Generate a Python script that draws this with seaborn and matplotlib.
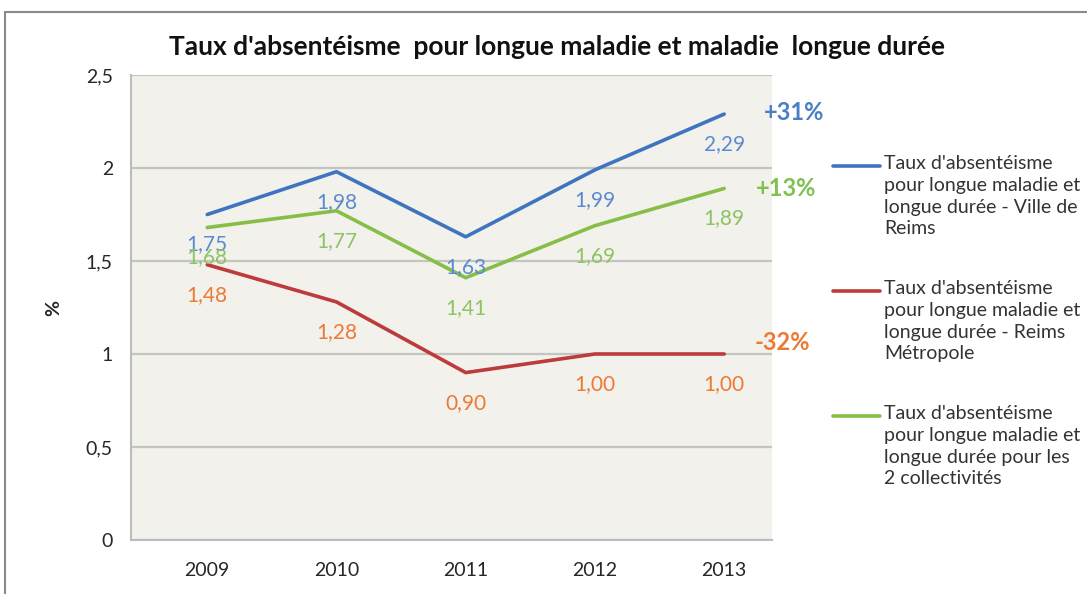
import pandas as pd
import matplotlib.pyplot as plt
import seaborn as sns
from matplotlib.lines import Line2D

years = ["2009", "2010", "2011", "2012", "2013"]
ville = [1.75, 1.98, 1.63, 1.99, 2.29]
metropole = [1.48, 1.28, 0.90, 1.00, 1.00]
deux = [1.68, 1.77, 1.41, 1.69, 1.89]
evolutions = ["+31%", "-32%", "+13%"]

series_names = [
    "Taux d'absentéisme\npour longue maladie et\nlongue durée - Ville de\nReims",
    "Taux d'absentéisme\npour longue maladie et\nlongue durée - Reims\nMétropole",
    "Taux d'absentéisme\npour longue maladie et\nlongue durée pour les\n2 collectivités",
]
yticks = [0, 0.5, 1, 1.5, 2, 2.5]

line_colors = ["#3F74C0", "#BD3B3B", "#86BE48"]
label_colors = ["#5B8AD0", "#EC7A35", "#8DC463"]
evo_colors = ["#4A7FC8", "#EC7A35", "#7EC150"]

sns.set_theme(style="white")
plt.rcParams["font.family"] = ["Lato", "DejaVu Sans"]

df = pd.DataFrame({
    "annee": years * 3,
    "pos": list(range(len(years))) * 3,
    "valeur": ville + metropole + deux,
    "serie": [series_names[0]] * 5 + [series_names[1]] * 5 + [series_names[2]] * 5,
})

W, H = 1087, 594
fig = plt.figure(figsize=(W / 100, H / 100), dpi=100)
ax = fig.add_axes([131 / W, 54 / H, (772 - 131) / W, (540 - 75) / H])
ax.set_facecolor("#F2F1EC")

sns.lineplot(data=df, x="pos", y="valeur", hue="serie", palette=line_colors,
             linewidth=2.6, ax=ax, legend=False)

ax.set_xlim(-0.59, 4.37)
ax.set_ylim(0, 2.5)
ax.set_xticks(range(len(years)))
ax.set_xticklabels(years, fontsize=14, color="#262626")
ax.set_yticks(yticks)
ax.set_yticklabels([f"{v:g}".replace(".", ",") for v in yticks], fontsize=14, color="#262626")
ax.tick_params(axis="x", pad=16, length=0)
ax.tick_params(axis="y", pad=13, length=0)
ax.set_xlabel("")
ax.set_ylabel("%", fontsize=14, fontweight="bold")
ax.yaxis.set_label_coords((62 - 131) / 641, 0.5)
ax.yaxis.grid(True, color="#C4C4C0", linewidth=1.6)
for s in ["top", "right"]:
    ax.spines[s].set_visible(False)
for s in ["left", "bottom"]:
    ax.spines[s].set_color("#BDBDBD")
    ax.spines[s].set_linewidth(1.5)

# data labels, under each point
for vals, col in zip([ville, metropole, deux], label_colors):
    for i, v in enumerate(vals):
        ax.annotate(f"{v:.2f}".replace(".", ","), (i, v), xytext=(0, -30),
                    textcoords="offset pixels", ha="center", va="center",
                    fontsize=15, color=col)

# evolution labels
evo_offsets = [(70, 2), (58, 11), (62, 0)]
for vals, txt, col, off in zip([ville, metropole, deux], evolutions, evo_colors, evo_offsets):
    ax.annotate(txt, (4, vals[-1]), xytext=off, textcoords="offset pixels",
                ha="center", va="center", fontsize=17, fontweight="bold", color=col)

# legend, handle aligned with first text line
for k, (name, col) in enumerate(zip(series_names, line_colors)):
    yc = 1 - (166 + 125 * k) / H
    fig.add_artist(Line2D([833 / W, 880 / W], [yc, yc], color=col, linewidth=2.6))
    fig.text(884 / W, yc + 11 / H, name, ha="left", va="top", fontsize=14,
             linespacing=1.34, color="#333333")

fig.text(557 / W, 1 - 47 / H,
         "Taux d'absentéisme  pour longue maladie et maladie  longue durée",
         ha="center", va="center", fontsize=19, fontweight="bold", color="#111111")

# outer chart frame
fig.add_artist(Line2D([5 / W, 1], [1 - 12 / H, 1 - 12 / H], color="#8A8A8A", linewidth=1.5))
fig.add_artist(Line2D([5 / W, 5 / W], [0, 1 - 12 / H], color="#8A8A8A", linewidth=1.5))

fig.savefig("out.png", dpi=100)
